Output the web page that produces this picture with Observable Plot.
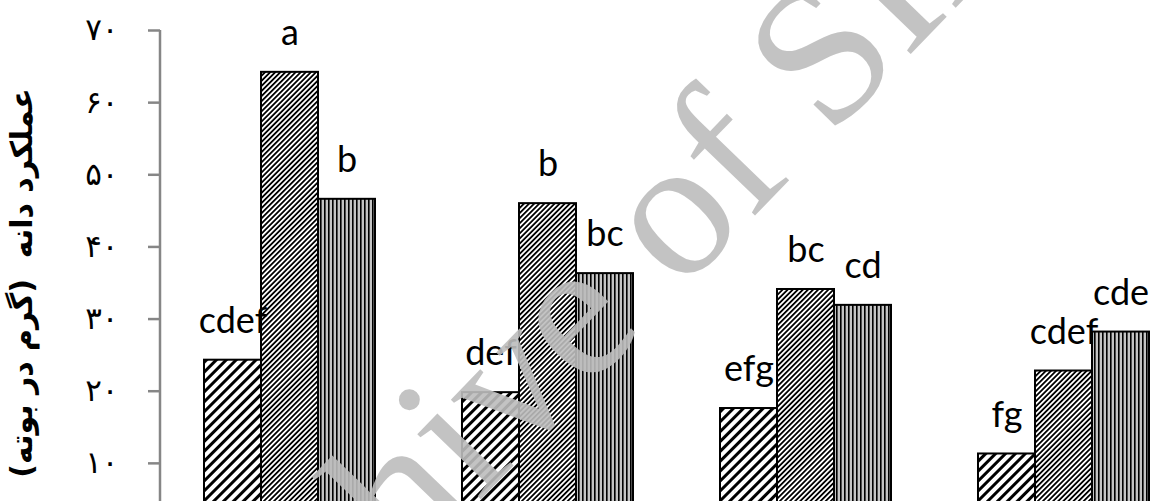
<!DOCTYPE html>
<html>
<head>
<meta charset="utf-8">
<script src="https://cdn.jsdelivr.net/npm/d3@7"></script>
<script src="https://cdn.jsdelivr.net/npm/@observablehq/plot@0.6"></script>
<style>
  html, body { margin: 0; padding: 0; background: #fff; overflow: hidden; }
  #wrap { position: relative; width: 1152px; height: 501px; overflow: hidden; }
  #wm { position: absolute; left: 0; top: 0; pointer-events: none; }
  g[aria-label="y-axis label"] text { font-weight: bold; font-size: 30px; }
</style>
</head>
<body>
<svg width="0" height="0" style="position:absolute">
  <defs>
    <pattern id="hatchWide" patternUnits="userSpaceOnUse" width="7" height="7" patternTransform="rotate(45)">
      <rect width="7" height="7" fill="#fff"/>
      <rect width="3" height="7" fill="#000"/>
    </pattern>
    <pattern id="hatchFine" patternUnits="userSpaceOnUse" width="3.6" height="3.6" patternTransform="rotate(45)">
      <rect width="3.6" height="3.6" fill="#fff"/>
      <rect width="1.8" height="3.6" fill="#000"/>
    </pattern>
    <pattern id="vertFine" patternUnits="userSpaceOnUse" width="4" height="4">
      <rect width="4" height="4" fill="#c4c4c4"/>
      <rect width="1.6" height="4" fill="#000"/>
    </pattern>
  </defs>
</svg>
<div id="wrap"></div>
<script>
// ---- data ----
const groups = ["G1", "G2", "G3", "G4"];
const series = ["S1", "S2", "S3"];
const valuesS1 = [24.3, 19.8, 17.6, 11.3];
const valuesS2 = [64.2, 46.0, 34.1, 22.8];
const valuesS3 = [46.6, 36.3, 31.9, 28.2];
const lettersS1 = ["cdef", "def", "efg", "fg"];
const lettersS2 = ["a", "b", "bc", "cdef"];
const lettersS3 = ["b", "bc", "cd", "cde"];
const yTicks = [10, 20, 30, 40, 50, 60, 70];
const yTickLabels = ["۱۰", "۲۰", "۳۰", "۴۰", "۵۰", "۶۰", "۷۰"];
const yTitle = "عملکرد دانه  (گرم در بوته)";

// ---- build table ----
const seriesValues = [valuesS1, valuesS2, valuesS3];
const seriesLetters = [lettersS1, lettersS2, lettersS3];
const data = [];
groups.forEach((g, gi) => {
  series.forEach((s, si) => {
    data.push({group: g, series: s, value: seriesValues[si][gi], letter: seriesLetters[si][gi]});
  });
});

const patternFills = ["url(#hatchWide)", "url(#hatchFine)", "url(#vertFine)"];
const axisColor = "#868686";

const chart = Plot.plot({
  width: 1152,
  height: 501,
  marginLeft: 160,
  marginRight: -40,
  marginTop: 30,
  marginBottom: -34,
  style: {fontFamily: "'DejaVu Sans', sans-serif", background: "#fff", color: "#000"},
  fx: {domain: groups, padding: 0, axis: null, label: null},
  x: {domain: series, paddingInner: 0, paddingOuter: 0.736, axis: null},
  y: {domain: [0, 70]},
  color: {type: "ordinal", domain: series, range: patternFills},
  marks: [
    Plot.barY(data, {fx: "group", x: "series", y: "value", fill: "series", stroke: "#000", strokeWidth: 2}),
    Plot.text(data, {fx: "group", x: "series", y: "value", text: "letter", dy: -39,
      fontSize: 36, fontFamily: "Lato", fill: "#000"}),
    Plot.axisY({
      ticks: yTicks,
      tickFormat: d => yTickLabels[yTicks.indexOf(d)],
      tickSize: 12, tickPadding: 30,
      stroke: axisColor, strokeWidth: 2.5, fill: "#000", fontSize: 31,
      label: yTitle, labelAnchor: "center", labelOffset: 150, labelArrow: "none"
    })
  ]
});
document.getElementById("wrap").appendChild(chart);

// y-axis domain line, placed from the plot's own scales
const yScale = chart.scale("y");
const fxScale = chart.scale("fx");
const axisX = fxScale.range[0];
d3.select(chart).append("line")
  .attr("x1", axisX).attr("x2", axisX)
  .attr("y1", yScale.range[0]).attr("y2", yScale.range[1])
  .attr("stroke", axisColor).attr("stroke-width", 2.5);

// watermark overlay (present in the reference image)
const wm = d3.select("#wrap").append("svg").attr("id", "wm").attr("width", 1152).attr("height", 501);
wm.append("text")
  .attr("transform", "translate(203,787) rotate(-46)")
  .attr("font-family", "'Liberation Serif', serif")
  .attr("font-size", 198)
  .attr("fill", "#bdbdbd")
  .attr("fill-opacity", 0.9)
  .text("Archive of SID");
</script>
</body>
</html>
